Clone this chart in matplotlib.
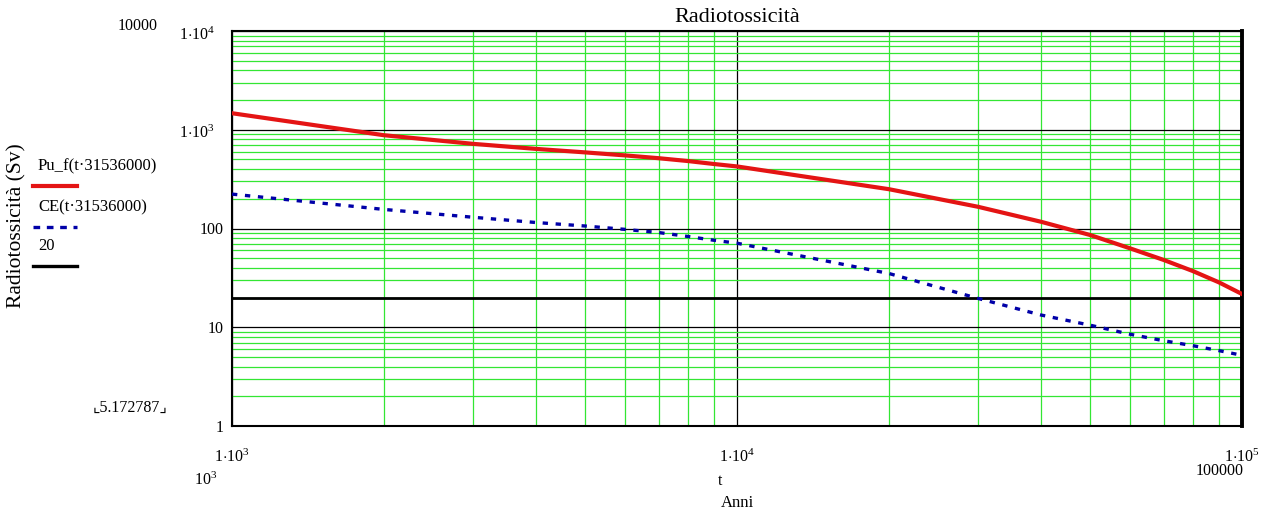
import matplotlib
matplotlib.use("Agg")
import matplotlib.pyplot as plt
from matplotlib.lines import Line2D
from matplotlib.ticker import LogLocator, NullFormatter
from matplotlib.transforms import ScaledTranslation

plt.rcParams['font.family'] = ['Liberation Serif', 'DejaVu Sans']
plt.rcParams['mathtext.fontset'] = 'custom'
plt.rcParams['mathtext.rm'] = 'Liberation Serif'
plt.rcParams['mathtext.it'] = 'Liberation Serif:italic'

# anni (t) e radiotossicità
years = [1000, 2000, 3000, 4000, 5000, 6000, 7000, 8000, 9000, 10000,
         20000, 30000, 40000, 50000, 60000, 70000, 80000, 90000, 100000]
pu_f = [1470, 880, 720, 640, 590, 550, 515, 482, 450, 425,
        250, 166, 117, 86, 63, 48, 37, 28.5, 21.7]
ce = [223, 156, 130, 115, 106, 98, 91, 83, 76, 71,
      35, 19.6, 13.3, 10.5, 8.5, 7.3, 6.5, 5.8, 5.2]
threshold = 20

y_ticks = [1, 10, 100, 1000, 10000]
y_labels = ['1', '10', '100', r'$1{\cdot}10^{3}$', r'$1{\cdot}10^{4}$']
x_ticks = [1000, 10000, 100000]
x_labels = [r'$1{\cdot}10^{3}$', r'$1{\cdot}10^{4}$', r'$1{\cdot}10^{5}$']

GREEN = '#33e633'
RED = '#e41414'
BLUE = '#0000a8'
FS = 11.5
DASH = (0, (1.6, 2.3))

fig = plt.figure(figsize=(12.7, 5.13), dpi=100)
ax = fig.add_axes([232 / 1270, 1 - 426 / 513, 1010 / 1270, 395 / 513])
ax.set_xscale('log')
ax.set_yscale('log')
ax.set_xlim(1e3, 1e5)
ax.set_ylim(1, 1e4)

ax.xaxis.set_minor_locator(LogLocator(base=10, subs=range(2, 10)))
ax.yaxis.set_minor_locator(LogLocator(base=10, subs=range(2, 10)))
ax.xaxis.set_minor_formatter(NullFormatter())
ax.yaxis.set_minor_formatter(NullFormatter())
ax.grid(which='minor', color=GREEN, lw=0.9)
ax.grid(which='major', color='black', lw=0.9)
ax.set_axisbelow(True)

ax.set_xticks(x_ticks, x_labels)
ax.set_yticks(y_ticks, y_labels)
ax.tick_params(which='both', length=0, labelsize=FS)
ax.tick_params(axis='x', pad=16)
ax.tick_params(axis='y', pad=6)
# le etichette 1·10^n stanno un po' più a sinistra
for lbl in ax.get_yticklabels()[3:]:
    lbl.set_transform(lbl.get_transform() +
                      ScaledTranslation(-0.09, -0.02, fig.dpi_scale_trans))

for s in ax.spines.values():
    s.set_linewidth(1.5)
ax.spines['right'].set_linewidth(2.8)

ax.plot(years, pu_f, color=RED, lw=3, zorder=4)
ax.plot(years, ce, color=BLUE, lw=2.4, linestyle=DASH, zorder=4)
ax.axhline(threshold, color='black', lw=2, zorder=3)

fig.text(737 / 1270, 1 - 17 / 513, 'Radiotossicità', fontsize=16,
         ha='center', va='center')
fig.text(737 / 1270, 1 - 503 / 513, 'Anni', fontsize=12, ha='center', va='center')
fig.text(17 / 1270, 1 - 226 / 513, 'Radiotossicità (Sv)', rotation=90,
         fontsize=15.5, ha='center', va='center')

# testi extra in stile Mathcad
fig.text(158 / 1270, 1 - 26 / 513, '10000', fontsize=FS, ha='right', va='center')
fig.text(130 / 1270, 1 - 408 / 513, '\u231e5.172787\u231f', fontsize=FS,
         ha='center', va='center')
fig.text(206 / 1270, 1 - 480 / 513, r'$10^{3}$', fontsize=FS, ha='center', va='center')
fig.text(720 / 1270, 1 - 481 / 513, 't', fontsize=FS, ha='center', va='center')
fig.text(1220 / 1270, 1 - 471 / 513, '100000', fontsize=FS, ha='center', va='center')

# legenda
legend_items = [('Pu_f(t\u00b731536000)', RED, '-', 166, 3),
                ('CE(t\u00b731536000)', BLUE, (0, (2.0, 2.0)), 207, 2.4),
                ('20', 'black', '-', 246, 2.4)]
for text, color, ls, ypix, lw in legend_items:
    fig.text(38 / 1270, 1 - ypix / 513, text, fontsize=12, ha='left', va='center')
    fig.add_artist(Line2D([33 / 1270, 77 / 1270], [1 - (ypix + 20) / 513] * 2,
                          color=color, lw=lw, linestyle=ls,
                          transform=fig.transFigure))

fig.savefig('out.png', dpi=100)
